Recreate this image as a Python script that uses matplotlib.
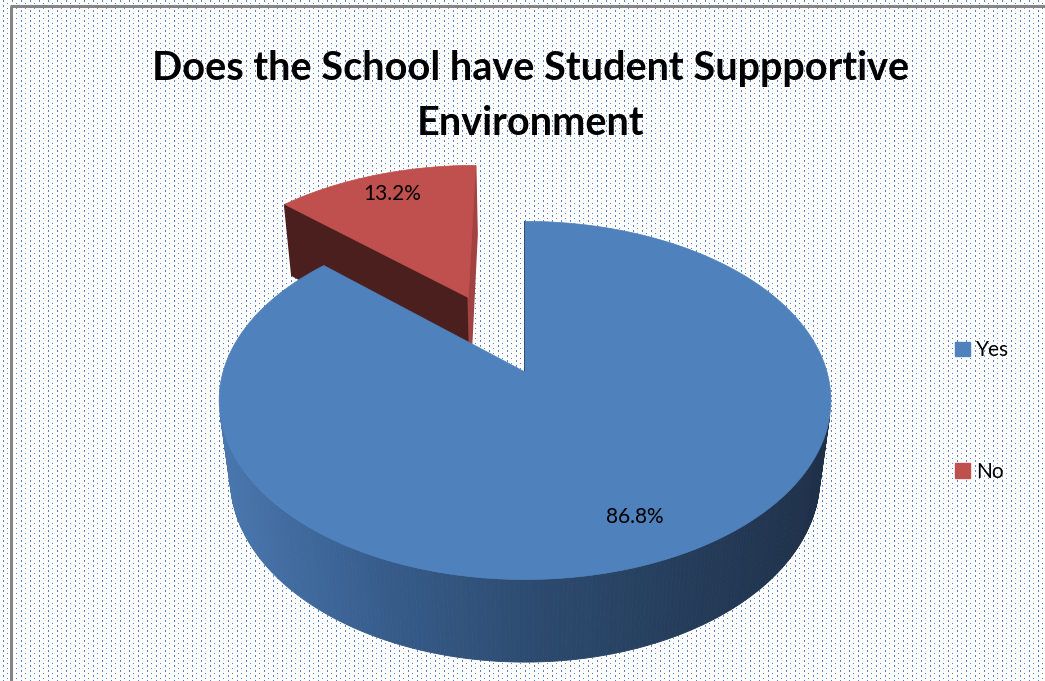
import numpy as np
import matplotlib
matplotlib.use("Agg")
import matplotlib.pyplot as plt
from matplotlib.patches import Polygon, Patch
from matplotlib.colors import to_rgb

# ---------------- data ----------------
categories = ["Yes", "No"]
values = [86.8, 13.2]
label_texts = ["86.8%", "13.2%"]
explode = [0.0, 0.5]
top_colors = ["#4F81BD", "#C0504D"]
title_lines = ["Does the School have Student Suppportive", "Environment"]

# ---------------- figure ----------------
W, HP = 1045, 681
fig = plt.figure(figsize=(W / 100, HP / 100), dpi=100)

# dotted chart-area background (decoration)
bg = np.ones((HP, W, 3))
yy, xx = np.mgrid[0:HP, 0:W]
mask = ((xx % 9) == 3) & ((yy % 5) < 2)
mask |= ((xx % 9) == 7) & (((yy + 2) % 5) < 1)
bg[mask] = (0.33, 0.52, 0.80)
fig.figimage(bg, 0, 0, zorder=-10)

ax = fig.add_axes([0, 0, 1, 1])
ax.set_xlim(0, W)
ax.set_ylim(HP, 0)
ax.axis("off")
ax.patch.set_alpha(0)

# grey chart border
ax.plot([11, 11], [6, HP], color="#858585", lw=2.2, solid_capstyle="butt", zorder=1)
ax.plot([10, W], [6, 6], color="#858585", lw=2.2, solid_capstyle="butt", zorder=1)

# ---------------- 3D perspective projection ----------------
cx, cy = 525.0, 372.0
kpx = 302.0
s_phi, c_phi = 0.578, 0.816
Dcam = 5.14
Hd = 0.325
cam = np.array([0.0, -Dcam * c_phi, Dcam * s_phi])


def proj(X, Y, Z):
    X = np.asarray(X, float)
    Y = np.asarray(Y, float)
    Z = np.asarray(Z, float)
    up = Y * s_phi + Z * c_phi
    depth = Dcam + Y * c_phi - Z * s_phi
    f = Dcam / depth
    return cx + kpx * X * f, cy - kpx * up * f


def side_grad(x):
    stops_x = [215, 380, 540, 835]
    stops_c = [to_rgb("#4a78b0"), to_rgb("#375d8c"), to_rgb("#2c4a6e"), to_rgb("#1e2f47")]
    arr = np.array(stops_c)
    return tuple(np.interp(x, stops_x, arr[:, j]) for j in range(3))


total = float(sum(values))
starts = []
a = 90.0
for v in values:
    starts.append((a, a - 360.0 * v / total))
    a -= 360.0 * v / total

radial_colors = {"Yes": "#1f3550", "No": "#4b1f1e"}
radial_colors_right = {"Yes": "#1f3550", "No": "#a04341"}


def draw_slice(i, zbase):
    a0, a1 = starts[i]
    mid = np.deg2rad((a0 + a1) / 2)
    ox, oy = explode[i] * np.cos(mid), explode[i] * np.sin(mid)
    th = np.deg2rad(np.linspace(a0, a1, 400))
    rx, ry = ox + np.cos(th), oy + np.sin(th)

    # curved outer side (strips, gradient)
    for k in range(len(th) - 1):
        tm = 0.5 * (th[k] + th[k + 1])
        P = np.array([ox + np.cos(tm), oy + np.sin(tm), -Hd / 2])
        n = np.array([np.cos(tm), np.sin(tm), 0.0])
        if np.dot(n, cam - P) <= 0:
            continue
        xs_t, ys_t = proj(rx[k:k + 2], ry[k:k + 2], [0, 0])
        xs_b, ys_b = proj(rx[k:k + 2], ry[k:k + 2], [-Hd, -Hd])
        poly = np.column_stack([np.r_[xs_t, xs_b[::-1]], np.r_[ys_t, ys_b[::-1]]])
        if i == 0:
            col = side_grad(poly[:, 0].mean())
        else:
            col = "#4b1f1e"
        ax.add_patch(Polygon(poly, closed=True, fc=col, ec=col, lw=0.6, zorder=zbase))

    # radial faces
    for ang, nang in ((a0, a0 + 90), (a1, a1 - 90)):
        t = np.deg2rad(ang)
        nt = np.deg2rad(nang)
        n = np.array([np.cos(nt), np.sin(nt), 0.0])
        P = np.array([ox + 0.5 * np.cos(t), oy + 0.5 * np.sin(t), -Hd / 2])
        if np.dot(n, cam - P) < -1e-9:
            continue
        X = [ox, ox + np.cos(t), ox + np.cos(t), ox]
        Y = [oy, oy + np.sin(t), oy + np.sin(t), oy]
        Z = [0, 0, -Hd, -Hd]
        xs, ys = proj(X, Y, Z)
        col = radial_colors_right[categories[i]] if n[0] > 0.5 else radial_colors[categories[i]]
        ax.add_patch(Polygon(np.column_stack([xs, ys]), closed=True, fc=col, ec=col,
                             lw=1.2, zorder=zbase + 0.5))

    # top face
    xs, ys = proj(np.r_[ox, rx], np.r_[oy, ry], np.zeros(len(rx) + 1))
    ax.add_patch(Polygon(np.column_stack([xs, ys]), closed=True, fc=top_colors[i],
                         ec=top_colors[i], lw=0.5, zorder=zbase + 1))

    # data label
    lr = 0.8 + explode[i]
    lx, ly = proj(lr * np.cos(mid), lr * np.sin(mid), 0.0)
    ax.text(float(lx), float(ly) - (3 if i == 1 else 0), label_texts[i], ha="center",
            va="center", fontsize=15, family="Lato", color="black", zorder=10)


# back slice (exploded "No") first, then the front slice
draw_slice(1, 2)
draw_slice(0, 5)

# ---------------- title ----------------
for line, yb in zip(title_lines, (80, 135)):
    ax.text(531, yb, line, ha="center", va="baseline", fontsize=28.5,
            fontweight="bold", family="Lato", color="black", zorder=10)

# ---------------- legend ----------------
handles = [Patch(facecolor=c, edgecolor=c) for c in top_colors]
leg = ax.legend(handles, categories, loc="center left",
                bbox_to_anchor=(955 / W, 1 - 411 / HP), frameon=False,
                prop={"family": "Lato", "size": 15}, handlelength=0.7,
                handleheight=0.7, handletextpad=0.3, labelspacing=4.85,
                borderpad=0, borderaxespad=0)

fig.savefig("out.png", dpi=100)
